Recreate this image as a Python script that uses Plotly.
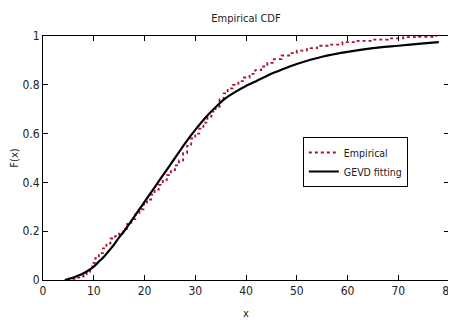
import plotly.graph_objects as go

# Empirical CDF (stairs) knots
emp_x = [5.8, 6.6, 7.4, 8.0, 8.6, 9.3, 9.7, 10.3, 11.0, 11.8, 12.5, 13.3, 14.2, 15.0,
         15.8, 16.6, 17.4, 18.2, 19.0, 19.8, 20.5, 21.3, 22.0, 22.8, 23.6, 24.4, 25.2,
         26.0, 26.8, 27.6, 28.4, 29.2, 30.0, 30.8, 31.6, 32.4, 33.2, 34.0, 34.8, 35.6,
         36.4, 37.4, 38.5, 39.6, 40.7, 41.8, 43.0, 44.2, 45.5, 47.0, 48.5, 50.0, 52.0,
         54.0, 56.5, 59.0, 62.0, 65.0, 68.0, 71.0, 74.0, 77.5]
emp_f = [0.005, 0.01, 0.015, 0.02, 0.03, 0.04, 0.07, 0.09, 0.11, 0.13, 0.15, 0.17, 0.18, 0.19,
         0.21, 0.23, 0.25, 0.27, 0.29, 0.31, 0.33, 0.35, 0.37, 0.39, 0.41, 0.43, 0.45,
         0.47, 0.49, 0.52, 0.55, 0.58, 0.60, 0.62, 0.645, 0.67, 0.69, 0.71, 0.74, 0.765,
         0.785, 0.80, 0.815, 0.83, 0.845, 0.86, 0.875, 0.89, 0.905, 0.92, 0.93, 0.94, 0.95,
         0.96, 0.965, 0.975, 0.98, 0.985, 0.99, 0.995, 0.997, 1.0]

# GEVD fitted CDF
gev_x = [4.3, 5, 6, 7, 8, 9, 10, 11, 12, 13, 14, 15, 16, 17, 18, 19, 20, 22, 24, 26, 28,
         30, 32, 34, 36, 38, 40, 42, 45, 48, 50, 55, 60, 65, 70, 75, 78]
gev_f = [0.0, 0.004, 0.01, 0.018, 0.028, 0.04, 0.055, 0.075, 0.095, 0.12, 0.145, 0.175,
         0.2, 0.23, 0.26, 0.29, 0.32, 0.38, 0.44, 0.50, 0.56, 0.615, 0.665, 0.708, 0.745,
         0.772, 0.795, 0.815, 0.845, 0.87, 0.885, 0.915, 0.935, 0.95, 0.96, 0.97, 0.975]

x_ticks = [0, 10, 20, 30, 40, 50, 60, 70, 80]
y_ticks = [0, 0.2, 0.4, 0.6, 0.8, 1]
y_tick_text = ["0", "0.2", "0.4", "0.6", "0.8", "1"]

FONT = "Liberation Sans Narrow, DejaVu Sans Condensed, Arial Narrow, Liberation Sans, sans-serif"

fig = go.Figure()
fig.add_trace(go.Scatter(x=emp_x, y=emp_f, mode="lines", name="Empirical",
                         line=dict(color="#a8142e", width=1.8, dash="dot", shape="hv")))
fig.add_trace(go.Scatter(x=gev_x, y=gev_f, mode="lines", name="GEVD fitting",
                         line=dict(color="black", width=2.2, shape="spline", smoothing=0.8)))

axis_common = dict(showline=True, linecolor="black", linewidth=1, mirror="ticks",
                   ticks="inside", ticklen=5, tickcolor="black", showgrid=False,
                   zeroline=False, automargin=False, ticklabeloverflow="allow",
                   tickfont=dict(family=FONT, size=12, color="#222"))

# The page body has an 8px margin, so the figure is made 8px smaller and margins compensated
fig.update_layout(
    width=448, height=312,
    margin=dict(l=35, r=7, t=28, b=40, autoexpand=False),
    paper_bgcolor="white", plot_bgcolor="white",
    font=dict(family=FONT, size=11, color="#222"),
    title=dict(text="Empirical CDF", x=0.5, xref="paper", y=1 - 10 / 312, yref="container",
               xanchor="center", yanchor="middle",
               font=dict(family=FONT, size=11, color="#222")),
    xaxis=dict(range=[0, 80], tickvals=x_ticks,
               title=dict(text="x", standoff=11, font=dict(family=FONT, size=11)),
               **axis_common),
    yaxis=dict(range=[0, 1], tickvals=y_ticks, ticktext=y_tick_text,
               title=dict(text="F(x)", standoff=8, font=dict(family=FONT, size=11)),
               **axis_common),
    legend=dict(x=0.64, y=0.586, xanchor="left", yanchor="top",
                bordercolor="black", borderwidth=1, bgcolor="white",
                font=dict(family=FONT, size=10.5, color="#222"),
                itemwidth=30, tracegroupgap=0),
    showlegend=True,
)

fig.write_html("out.html", default_width="448px", default_height="312px")
